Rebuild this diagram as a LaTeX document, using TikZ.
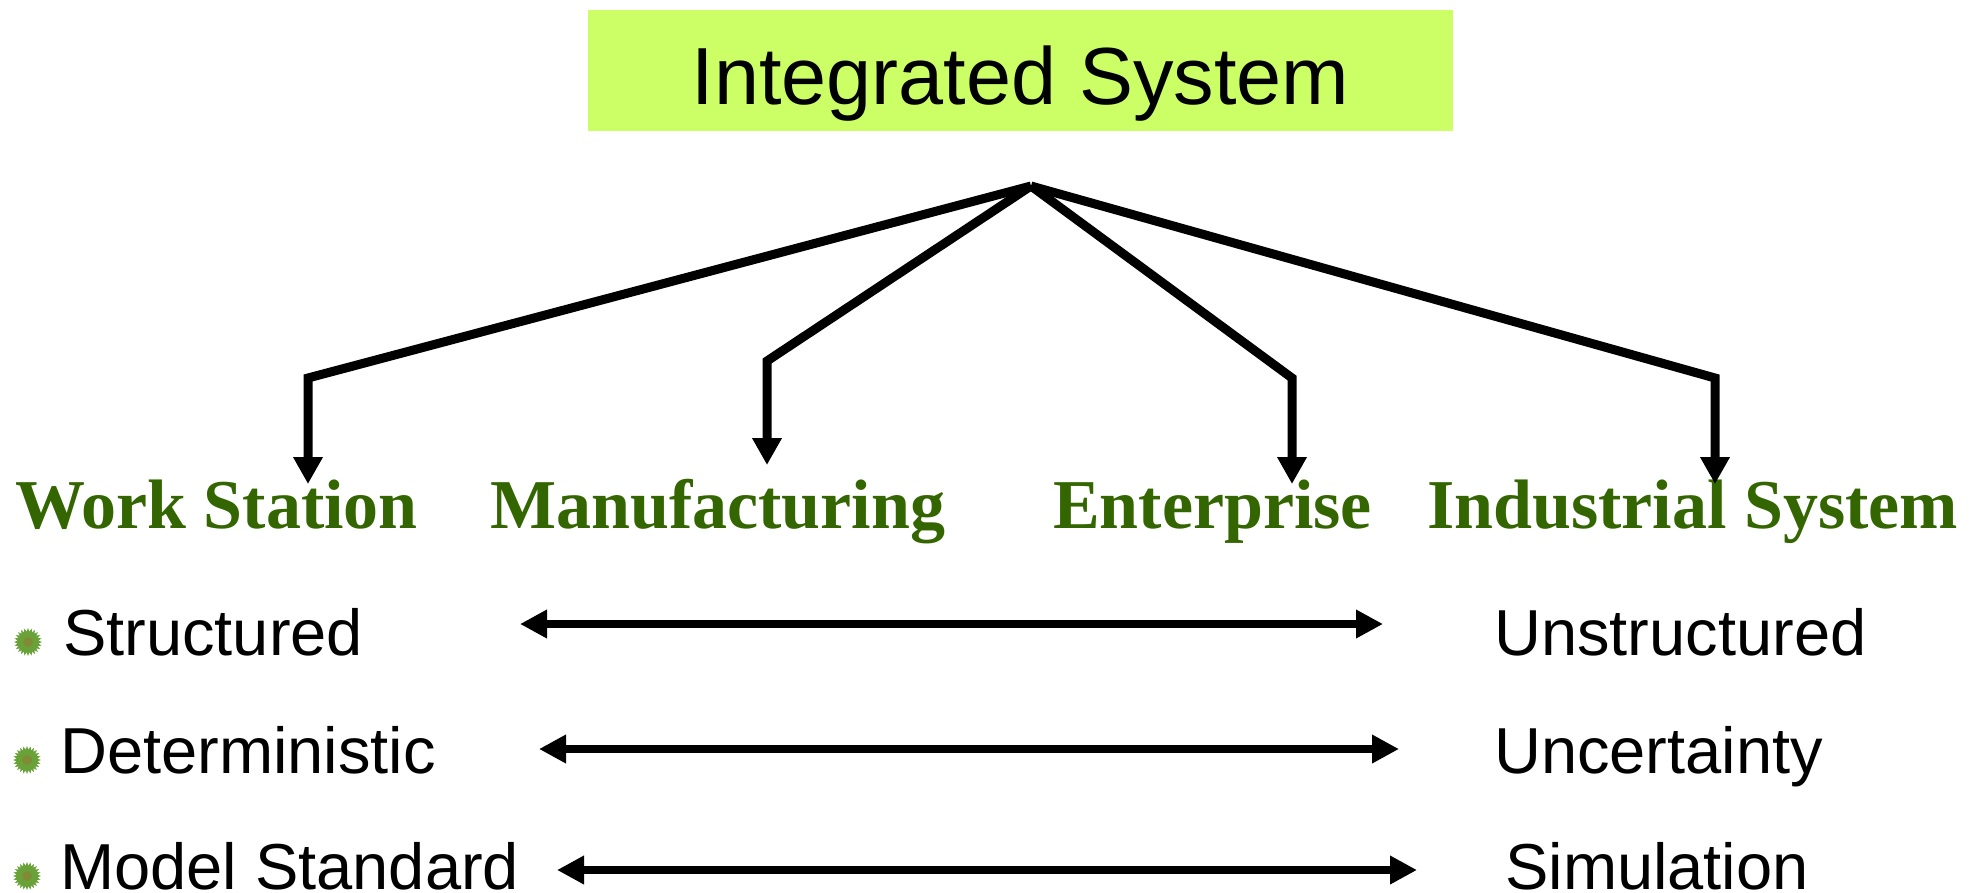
\documentclass[tikz,border=0pt]{standalone}
\usepackage{fontspec}
\setmainfont{Liberation Sans}
\newfontfamily\headfont{Liberation Serif}
\usetikzlibrary{arrows.meta}
\definecolor{boxgreen}{HTML}{CCFF66}
\definecolor{headgreen}{HTML}{336600}
\definecolor{bulletgreen}{HTML}{6AA23A}
\definecolor{bulletdark}{HTML}{7F8C35}
\tikzset{
  title/.style={fill=boxgreen,minimum width=865pt,text height=94pt,text depth=27pt,inner sep=0pt,font=\fontsize{81}{90}\selectfont},
  heading/.style={anchor=base west,inner sep=0pt,text=headgreen,font=\headfont\bfseries\fontsize{70}{80}\selectfont},
  item/.style={anchor=base west,inner sep=0pt,font=\fontsize{65}{75}\selectfont},
  tree/.style={line width=9pt,line join=miter,-{Triangle[length=27pt,width=28pt]}},
  twoway/.style={line width=8pt,{Triangle[length=27pt,width=27pt]}-{Triangle[length=27pt,width=27pt]}},
  gearfill/.style={fill=bulletgreen},
  gearcore/.style={fill=bulletdark}
}
\begin{document}
\begin{tikzpicture}[x=1pt,y=-1pt]
\useasboundingbox (0,0) rectangle (1980,892);
\node[title] (top) at (1020.5,70.5) {Integrated System};
\coordinate (apex) at (1031,186);
\coordinate (e1) at (308,378);
\coordinate (e2) at (767,361);
\coordinate (e3) at (1292,378);
\coordinate (e4) at (1715,378);
\coordinate (t1) at (308,484);
\coordinate (t2) at (767,465);
\coordinate (t3) at (1292,484);
\coordinate (t4) at (1715,484);
\node[heading] (ws) at (15,528) {Work Station};
\node[heading] (mf) at (490,528) {Manufacturing};
\node[heading] (en) at (1053,528) {Enterprise};
\node[heading] (is) at (1427,528) {Industrial System};
\draw[tree] (apex) -- (e1) -- (t1);
\draw[tree] (apex) -- (e2) -- (t2);
\draw[tree] (apex) -- (e3) -- (t3);
\draw[tree] (apex) -- (e4) -- (t4);
\coordinate (b1) at (28,642);
\coordinate (b2) at (27,760);
\coordinate (b3) at (27,876);
\foreach \p in {b1,b2,b3}{
  \fill[gearfill,shift={(\p)}] plot[samples=49,domain=0:360] (\x:{mod(round(\x/7.5),2)==0 ? 14 : 10.5}) -- cycle;
  \fill[gearcore] (\p) circle (5);
}
\node[item] (l1) at (63,655) {Structured};
\node[item] (l2) at (60,773) {Deterministic};
\node[item] (l3) at (60,889) {Model Standard};
\node[item] (r1) at (1494,655) {Unstructured};
\node[item] (r2) at (1494,773) {Uncertainty};
\node[item] (r3) at (1505,889) {Simulation};
\coordinate (a1l) at (520,624); \coordinate (a1r) at (1383,624);
\coordinate (a2l) at (539,749); \coordinate (a2r) at (1399,749);
\coordinate (a3l) at (557,870); \coordinate (a3r) at (1417,870);
\draw[twoway] (a1l) -- (a1r);
\draw[twoway] (a2l) -- (a2r);
\draw[twoway] (a3l) -- (a3r);
\end{tikzpicture}
\end{document}
